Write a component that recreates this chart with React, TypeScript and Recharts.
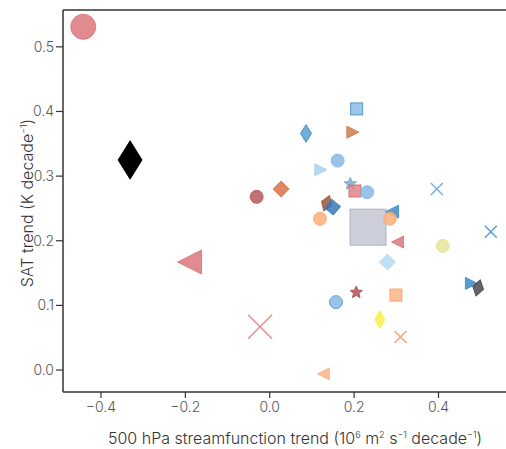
import { ScatterChart, Scatter, XAxis, YAxis, ReferenceLine } from 'recharts'

// trend values (one entry per model / product)
const streamTrend = [
  -0.442, -0.331, -0.19, -0.023, -0.031, 0.027, 0.086, 0.121, 0.161, 0.206, 0.197,
  0.191, 0.202, 0.231, 0.135, 0.149, 0.119, 0.233, 0.29, 0.285, 0.303, 0.279,
  0.41, 0.396, 0.524, 0.478, 0.494, 0.299, 0.205, 0.157, 0.261, 0.31, 0.127,
]
const satTrend = [
  0.531, 0.325, 0.167, 0.067, 0.268, 0.28, 0.366, 0.31, 0.324, 0.404, 0.368,
  0.288, 0.277, 0.275, 0.258, 0.252, 0.234, 0.221, 0.245, 0.234, 0.198, 0.167,
  0.192, 0.28, 0.214, 0.134, 0.127, 0.116, 0.12, 0.105, 0.078, 0.051, -0.006,
]
const xTicks = [-0.4, -0.2, 0, 0.2, 0.4]
const yTicks = [0, 0.1, 0.2, 0.3, 0.4, 0.5]

type Marker = {
  shape: string
  size: number
  fill: string
  stroke?: string
  aspect?: number
  rotate?: number
  opacity?: number
}

const markerStyles: Marker[] = [
  { shape: 'circle', size: 25, fill: '#d9777b' },
  { shape: 'diamond', size: 24, aspect: 1.6, fill: '#000000', opacity: 1 },
  { shape: 'left', size: 24, fill: '#d9777b' },
  { shape: 'x', size: 24, fill: '#e09597' },
  { shape: 'circle', size: 13, fill: '#b5585c' },
  { shape: 'diamond', size: 16, fill: '#d9714a' },
  { shape: 'diamond', size: 11, aspect: 1.6, fill: '#5b9fd3', stroke: '#3f86c0' },
  { shape: 'right', size: 12, fill: '#a9d1ef' },
  { shape: 'circle', size: 13, fill: '#86b9e3' },
  { shape: 'square', size: 12, fill: '#8cbde6', stroke: '#4a8fc8' },
  { shape: 'right', size: 12, fill: '#cf7c4c' },
  { shape: 'star', size: 13, fill: '#76acdc' },
  { shape: 'square', size: 12, fill: '#df8587', stroke: '#cf6b6e' },
  { shape: 'circle', size: 13, fill: '#86b9e3' },
  { shape: 'diamond', size: 11, aspect: 1.5, fill: '#9a5a3a', rotate: 20 },
  { shape: 'square', size: 11, fill: '#3a78b6', rotate: 40 },
  { shape: 'circle', size: 13, fill: '#fbad78' },
  { shape: 'square', size: 36, fill: '#c3c6d4', stroke: '#a7abbe' },
  { shape: 'left', size: 13, fill: '#3f8cc8' },
  { shape: 'circle', size: 13, fill: '#fbad78' },
  { shape: 'left', size: 12, fill: '#d9777b' },
  { shape: 'diamond', size: 16, fill: '#b6d9f2' },
  { shape: 'circle', size: 13, fill: '#e5e39a' },
  { shape: 'x', size: 12, fill: '#7ab2de' },
  { shape: 'x', size: 12, fill: '#5d9fd6' },
  { shape: 'right', size: 12, fill: '#3f8cc8' },
  { shape: 'diamond', size: 11, aspect: 1.5, fill: '#4a4a4a', rotate: 15 },
  { shape: 'square', size: 12, fill: '#fbb68a', stroke: '#f6a068' },
  { shape: 'star', size: 13, fill: '#ad5157' },
  { shape: 'circle', size: 13, fill: '#86b9e3', stroke: '#5a9dd4' },
  { shape: 'diamond', size: 10, aspect: 1.8, fill: '#f8f04a' },
  { shape: 'x', size: 12, fill: '#f6a57a' },
  { shape: 'left', size: 12, fill: '#f9b585' },
]

const data = streamTrend.map((x, i) => ({ x, y: satTrend[i], i }))

function starPoints(cx: number, cy: number, r: number) {
  const pts: string[] = []
  for (let k = 0; k < 10; k++) {
    const rr = k % 2 === 0 ? r : r * 0.45
    const a = -Math.PI / 2 + (k * Math.PI) / 5
    pts.push(`${cx + rr * Math.cos(a)},${cy + rr * Math.sin(a)}`)
  }
  return pts.join(' ')
}

function MarkerShape(props: any) {
  const { cx, cy, payload } = props
  const m = markerStyles[payload.i]
  const s = m.size / 2
  const stroke = m.stroke ?? m.fill
  const op = m.opacity ?? 0.85
  const common = { fill: m.fill, fillOpacity: op, stroke, strokeOpacity: 0.9, strokeWidth: 1 }
  const rot = m.rotate ? `rotate(${m.rotate} ${cx} ${cy})` : undefined
  switch (m.shape) {
    case 'circle':
      return <circle cx={cx} cy={cy} r={s} {...common} />
    case 'square':
      return <rect x={cx - s} y={cy - s} width={2 * s} height={2 * s} transform={rot} {...common} />
    case 'diamond': {
      const h = s * (m.aspect ?? 1)
      return (
        <polygon
          points={`${cx},${cy - h} ${cx + s},${cy} ${cx},${cy + h} ${cx - s},${cy}`}
          transform={rot}
          {...common}
        />
      )
    }
    case 'left':
      return <polygon points={`${cx - s},${cy} ${cx + s},${cy - s} ${cx + s},${cy + s}`} {...common} />
    case 'right':
      return <polygon points={`${cx + s},${cy} ${cx - s},${cy - s} ${cx - s},${cy + s}`} {...common} />
    case 'star':
      return <polygon points={starPoints(cx, cy, s)} {...common} />
    case 'x':
      return (
        <g stroke={m.fill} strokeWidth={1.6}>
          <line x1={cx - s} y1={cy - s} x2={cx + s} y2={cy + s} />
          <line x1={cx - s} y1={cy + s} x2={cx + s} y2={cy - s} />
        </g>
      )
    default:
      return null
  }
}

const fmt = (v: number) => (v < 0 ? '\u2212' + Math.abs(v).toFixed(1) : v.toFixed(1))

const font = 'Inter, "Noto Sans", sans-serif'

export default function App() {
  return (
    <div style={{ position: 'absolute', left: 0, top: 0, fontFamily: font }}>
      <ScatterChart width={506} height={449} margin={{ top: 10, right: 0, bottom: 0, left: 0 }}>
        <XAxis
          type="number"
          dataKey="x"
          domain={[-0.49, 0.56]}
          allowDataOverflow
          ticks={xTicks}
          tickFormatter={fmt}
          height={57}
          tickSize={6}
          tickMargin={4}
          axisLine={{ stroke: '#333', strokeWidth: 1.5 }}
          tickLine={{ stroke: '#333', strokeWidth: 1.2 }}
          tick={{ fontSize: 14, fill: '#555', fontFamily: font, fontWeight: 300 }}
        />
        <YAxis
          type="number"
          dataKey="y"
          domain={[-0.034, 0.557]}
          allowDataOverflow
          ticks={yTicks}
          tickFormatter={fmt}
          width={63}
          tickSize={7}
          tickMargin={2}
          axisLine={{ stroke: '#333', strokeWidth: 1.5 }}
          tickLine={{ stroke: '#333', strokeWidth: 1.2 }}
          tick={{ fontSize: 14, fill: '#555', fontFamily: font, fontWeight: 300 }}
        />
        <ReferenceLine y={0.557} stroke="#333" strokeWidth={1.5} />
        <Scatter data={data} shape={MarkerShape} isAnimationActive={false} />
        <text
          x={295}
          y={444}
          textAnchor="middle"
          fontSize={16}
          fill="#333"
          fontFamily={font}
          fontWeight={300}
        >
          500 hPa streamfunction trend (10
          <tspan fontSize={9} dy={-6}>6</tspan>
          <tspan dy={6}> m</tspan>
          <tspan fontSize={9} dy={-6}>2</tspan>
          <tspan dy={6}> s</tspan>
          <tspan fontSize={9} dy={-6}>−1</tspan>
          <tspan dy={6}> decade</tspan>
          <tspan fontSize={9} dy={-6}>−1</tspan>
          <tspan dy={6}>)</tspan>
        </text>
        <text
          x={33}
          y={203}
          transform="rotate(-90 33 203)"
          textAnchor="middle"
          fontSize={16}
          fill="#333"
          fontFamily={font}
          fontWeight={300}
        >
          SAT trend (K decade
          <tspan fontSize={9} dy={-6}>−1</tspan>
          <tspan dy={6}>)</tspan>
        </text>
      </ScatterChart>
    </div>
  )
}
